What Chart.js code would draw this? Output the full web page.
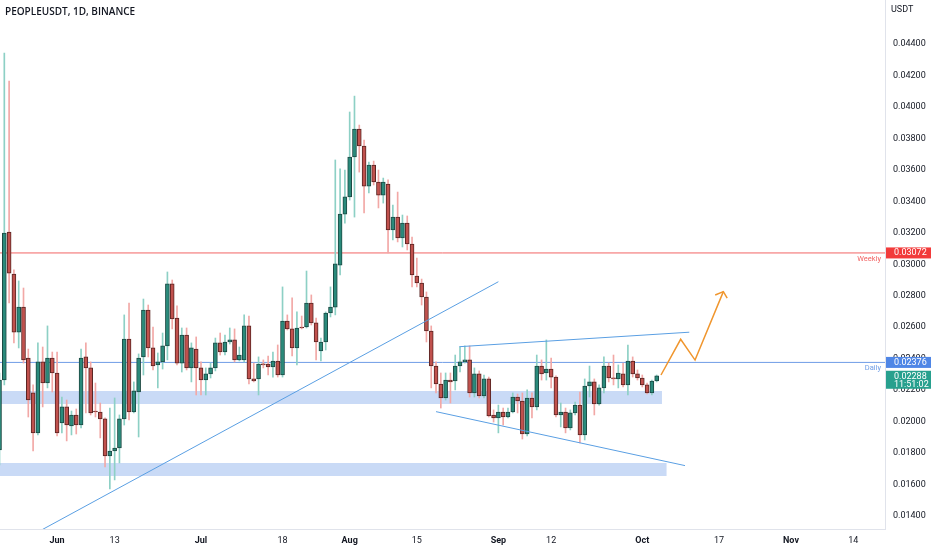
<!DOCTYPE html>
<html>
<head>
<meta charset="utf-8">
<title>PEOPLEUSDT, 1D, BINANCE</title>
<script src="https://cdn.jsdelivr.net/npm/chart.js@4.4.0/dist/chart.umd.min.js"></script>
<style>
    html, body { margin: 0; padding: 0; background: #ffffff; }
    #wrap { position: relative; width: 932px; height: 550px; }
    #title {
        position: absolute; left: 5px; top: 4px;
        font: 600 10px "Open Sans", Roboto, sans-serif; color: #131722;
    }
    #unit {
        position: absolute; left: 891px; top: 4px;
        font: 9px Roboto, sans-serif; color: #131722;
    }
</style>
</head>
<body>
<div id="wrap">
    <canvas id="priceChart"></canvas>
    <div id="title">PEOPLEUSDT, 1D, BINANCE</div>
    <div id="unit">USDT</div>
</div>
<script>
// Daily candles, index 0 = 21 May (first one is the partly hidden candle before it)
const firstDay = -1;
const openP = [
    0.01819, 0.02264, 0.03205, 0.02938, 0.02569, 0.02728, 0.02404, 0.02182, 0.01928, 0.02379,
    0.02245, 0.02404, 0.02309, 0.01991, 0.02093, 0.01972, 0.02042, 0.01978, 0.02411, 0.02341,
    0.02067, 0.02061, 0.02017, 0.01781, 0.01813, 0.01832, 0.02017, 0.02525, 0.02061, 0.02188,
    0.02411, 0.02709, 0.02468, 0.02360, 0.02379, 0.02481, 0.02875, 0.02658, 0.02372, 0.02550,
    0.02341, 0.02461, 0.02341, 0.02264, 0.02303, 0.02341, 0.02500, 0.02442, 0.02506, 0.02519,
    0.02392, 0.02392, 0.02608, 0.02271, 0.02271, 0.02366, 0.02366, 0.02347, 0.02385, 0.02296,
    0.02639, 0.02589, 0.02468, 0.02601, 0.02601, 0.02754, 0.02627, 0.02449, 0.02506, 0.02690,
    0.02728, 0.02995, 0.03319, 0.03428, 0.03682, 0.03860, 0.03752, 0.03497, 0.03631, 0.03523,
    0.03440, 0.03510, 0.03218, 0.03300, 0.03167, 0.03262, 0.03129, 0.02925, 0.02881, 0.02792,
    0.02576, 0.02353, 0.02239, 0.02150, 0.02264, 0.02258, 0.02353, 0.02379, 0.02392, 0.02182,
    0.02303, 0.02163, 0.02271, 0.02042, 0.02023, 0.02061, 0.02029, 0.02061, 0.02156, 0.02131,
    0.01921, 0.02150, 0.02093, 0.02353, 0.02309, 0.02334, 0.02283, 0.02042, 0.02061, 0.01959,
    0.02055, 0.02105, 0.01915, 0.02226, 0.02252, 0.02112, 0.02214, 0.02353, 0.02277, 0.02271,
    0.02303, 0.02233, 0.02385, 0.02303, 0.02277, 0.02233, 0.02182, 0.02258
];
const highP = [
    0.02309, 0.04343, 0.04165, 0.02964, 0.02894, 0.02849, 0.02461, 0.02233, 0.02500, 0.02474,
    0.02608, 0.02442, 0.02442, 0.02156, 0.02137, 0.02067, 0.02080, 0.02461, 0.02500, 0.02379,
    0.02245, 0.02118, 0.02023, 0.02086, 0.02150, 0.02042, 0.02678, 0.02754, 0.02252, 0.02430,
    0.02779, 0.02741, 0.02601, 0.02436, 0.02563, 0.02951, 0.02900, 0.02735, 0.02595, 0.02595,
    0.02500, 0.02538, 0.02379, 0.02341, 0.02372, 0.02531, 0.02563, 0.02550, 0.02595, 0.02589,
    0.02474, 0.02678, 0.02671, 0.02372, 0.02411, 0.02392, 0.02417, 0.02442, 0.02487, 0.02856,
    0.02678, 0.02786, 0.02697, 0.02671, 0.02957, 0.02805, 0.02658, 0.02531, 0.02697, 0.02856,
    0.03663, 0.03606, 0.03599, 0.03968, 0.04069, 0.03885, 0.03790, 0.03650, 0.03656, 0.03599,
    0.03548, 0.03536, 0.03377, 0.03459, 0.03313, 0.03307, 0.03173, 0.03040, 0.02906, 0.02824,
    0.02608, 0.02379, 0.02309, 0.02309, 0.02309, 0.02423, 0.02474, 0.02481, 0.02481, 0.02341,
    0.02322, 0.02296, 0.02283, 0.02074, 0.02105, 0.02086, 0.02086, 0.02182, 0.02175, 0.02182,
    0.02201, 0.02182, 0.02423, 0.02392, 0.02519, 0.02404, 0.02290, 0.02118, 0.02086, 0.02074,
    0.02124, 0.02188, 0.02271, 0.02353, 0.02271, 0.02233, 0.02411, 0.02372, 0.02423, 0.02360,
    0.02372, 0.02487, 0.02411, 0.02328, 0.02296, 0.02245, 0.02264, 0.02296
];
const lowP = [
    0.01724, 0.02233, 0.02754, 0.02500, 0.02468, 0.02372, 0.02029, 0.01813, 0.01915, 0.02093,
    0.02214, 0.02188, 0.01908, 0.01928, 0.01877, 0.01915, 0.01921, 0.01959, 0.02055, 0.02042,
    0.02029, 0.01896, 0.01711, 0.01572, 0.01629, 0.01737, 0.01978, 0.02010, 0.02055, 0.01902,
    0.02296, 0.02411, 0.02328, 0.02214, 0.02334, 0.02392, 0.02589, 0.02360, 0.02315, 0.02328,
    0.02252, 0.02169, 0.02169, 0.02169, 0.02277, 0.02322, 0.02423, 0.02423, 0.02493, 0.02379,
    0.02385, 0.02379, 0.02239, 0.02252, 0.02169, 0.02341, 0.02296, 0.02283, 0.02283, 0.02283,
    0.02582, 0.02417, 0.02360, 0.02589, 0.02595, 0.02614, 0.02392, 0.02385, 0.02455, 0.02665,
    0.02678, 0.02932, 0.03262, 0.03408, 0.03300, 0.03586, 0.03326, 0.03453, 0.03504, 0.03358,
    0.03389, 0.03072, 0.03154, 0.03142, 0.03110, 0.03091, 0.02856, 0.02856, 0.02741, 0.02506,
    0.02214, 0.02182, 0.02086, 0.02137, 0.02118, 0.02201, 0.02315, 0.02372, 0.02156, 0.02156,
    0.02150, 0.02150, 0.02029, 0.01997, 0.01928, 0.01978, 0.02023, 0.02055, 0.02055, 0.01889,
    0.01908, 0.02023, 0.02074, 0.02264, 0.02264, 0.02214, 0.02029, 0.01966, 0.01928, 0.01947,
    0.02042, 0.01864, 0.01883, 0.02156, 0.02042, 0.02105, 0.02182, 0.02252, 0.02233, 0.02214,
    0.02220, 0.02169, 0.02283, 0.02264, 0.02220, 0.02175, 0.02169, 0.02252
];
const closeP = [
    0.02264, 0.03199, 0.02944, 0.02569, 0.02728, 0.02392, 0.02137, 0.01928, 0.02379, 0.02245,
    0.02404, 0.02309, 0.01928, 0.02093, 0.01978, 0.02042, 0.01978, 0.02404, 0.02341, 0.02055,
    0.02061, 0.02017, 0.01781, 0.01813, 0.01832, 0.02017, 0.02525, 0.02061, 0.02195, 0.02404,
    0.02709, 0.02468, 0.02353, 0.02379, 0.02481, 0.02875, 0.02652, 0.02372, 0.02550, 0.02341,
    0.02468, 0.02341, 0.02264, 0.02303, 0.02341, 0.02500, 0.02442, 0.02506, 0.02519, 0.02392,
    0.02423, 0.02608, 0.02271, 0.02258, 0.02366, 0.02360, 0.02347, 0.02385, 0.02296, 0.02639,
    0.02589, 0.02468, 0.02595, 0.02595, 0.02754, 0.02627, 0.02506, 0.02506, 0.02690, 0.02728,
    0.03002, 0.03319, 0.03428, 0.03682, 0.03860, 0.03752, 0.03497, 0.03631, 0.03523, 0.03440,
    0.03523, 0.03218, 0.03300, 0.03167, 0.03262, 0.03129, 0.02932, 0.02881, 0.02792, 0.02576,
    0.02353, 0.02239, 0.02150, 0.02264, 0.02252, 0.02353, 0.02379, 0.02392, 0.02182, 0.02303,
    0.02163, 0.02271, 0.02036, 0.02023, 0.02061, 0.02029, 0.02061, 0.02156, 0.02131, 0.01921,
    0.02150, 0.02093, 0.02353, 0.02303, 0.02334, 0.02283, 0.02042, 0.02061, 0.01959, 0.02055,
    0.02105, 0.01915, 0.02226, 0.02252, 0.02112, 0.02214, 0.02353, 0.02277, 0.02271, 0.02309,
    0.02233, 0.02385, 0.02303, 0.02277, 0.02233, 0.02182, 0.02258, 0.02290
];

// time axis labels (day index from 21 May)
const tickDays = [11, 23, 41, 58, 72, 86, 103, 114, 133, 149, 164, 177];
const tickText = ['Jun', '13', 'Jul', '18', 'Aug', '15', 'Sep', '12', 'Oct', '17', 'Nov', '14'];
const tickIsMonth = [true, false, true, false, true, false, true, false, true, false, true, false];

// price axis labels
const priceTicks = [0.014, 0.016, 0.018, 0.020, 0.022, 0.024, 0.026, 0.028, 0.030,
                    0.032, 0.034, 0.036, 0.038, 0.040, 0.042, 0.044];

// levels drawn on the chart
const weeklyLevel = 0.03072;
const dailyLevel = 0.02376;
const lastPrice = 0.02288;
const lastTimer = '11:51:02';

// demand zones: top, bottom, last day they reach
const zoneTop = [0.02195, 0.01737];
const zoneBottom = [0.02112, 0.01654];
const zoneEnd = [137.1, 138.1];

// drawings as [day, price]
const trendUp = [[6.75, 0.01294], [103.0, 0.02889]];
const triangleTop = [[94.85, 0.02476], [142.8, 0.02568]];
const triangleBottom = [[90.0, 0.02063], [141.9, 0.01720]];
const projection = [[136.9, 0.02296], [141.0, 0.02523], [144.0, 0.02391], [149.9, 0.02826]];
const arrowHead = [[148.2, 0.02805], [149.9, 0.02826], [150.7, 0.02784]];

const xMin = -0.9, xMax = 183.6;
const yMin = 0.01317, yMax = 0.04680;

const upBody = '#2a8a7b', upEdge = '#1d4a44', upWick = '#8dd0c5';
const downBody = '#c0514d', downEdge = '#5a2523', downWick = '#f2a8a6';
const trendBlue = '#5a9fe3';
const zoneFill = '#c9daf6';

const candleX = openP.map((_, j) => firstDay + j);
const isUp = openP.map((o, j) => closeP[j] >= o);

const segment = (pts, color, width, order) => ({
    type: 'line',
    data: pts.map(([x, y]) => ({ x, y })),
    borderColor: color,
    borderWidth: width,
    pointRadius: 0,
    tension: 0,
    fill: false,
    order
});

const datasets = [];

// zones (filled between two invisible lines)
zoneTop.forEach((top, k) => {
    datasets.push({
        type: 'line',
        data: [{ x: xMin, y: top }, { x: zoneEnd[k], y: top }],
        borderColor: 'rgba(0,0,0,0)', borderWidth: 1, pointRadius: 0,
        backgroundColor: zoneFill, fill: '+1', order: 9
    });
    datasets.push({
        type: 'line',
        data: [{ x: xMin, y: zoneBottom[k] }, { x: zoneEnd[k], y: zoneBottom[k] }],
        borderColor: 'rgba(0,0,0,0)', borderWidth: 1, pointRadius: 0,
        fill: false, order: 9
    });
});

// horizontal levels
datasets.push(segment([[xMin, weeklyLevel], [xMax, weeklyLevel]], '#f26464', 1, 8));
datasets.push(segment([[xMin, dailyLevel], [xMax, dailyLevel]], '#6f9de6', 1, 8));

// candles: wicks then bodies
datasets.push({
    type: 'bar',
    data: candleX.map((x, j) => ({ x, y: [lowP[j], highP[j]] })),
    backgroundColor: isUp.map(u => u ? upWick : downWick),
    barThickness: 1,
    grouped: false,
    order: 6
});
datasets.push({
    type: 'bar',
    data: candleX.map((x, j) => ({ x, y: [Math.min(openP[j], closeP[j]), Math.max(openP[j], closeP[j])] })),
    backgroundColor: isUp.map(u => u ? upBody : downBody),
    borderColor: isUp.map(u => u ? upEdge : downEdge),
    borderWidth: 1,
    borderSkipped: false,
    barThickness: 4,
    minBarLength: 1,
    grouped: false,
    order: 5
});

// trend lines and projection
datasets.push(segment(trendUp, trendBlue, 1, 2));
datasets.push(segment(triangleTop, trendBlue, 1, 2));
datasets.push(segment(triangleBottom, trendBlue, 1, 2));
datasets.push(segment(projection, '#f0962e', 1.5, 1));
datasets.push(segment(arrowHead, '#f0962e', 1.5, 1));

// level captions and axis price tags
const priceTags = {
    id: 'priceTags',
    afterDraw(chart) {
        const { ctx, chartArea, scales: { y } } = chart;
        const left = chartArea.right + 1;
        const w = chart.width - left;
        ctx.save();

        ctx.font = '7.5px Roboto, sans-serif';
        ctx.textAlign = 'right';
        ctx.textBaseline = 'top';
        ctx.fillStyle = '#f26464';
        ctx.fillText('Weekly', chartArea.right - 4, y.getPixelForValue(weeklyLevel) + 2);
        ctx.fillStyle = '#6f9de6';
        ctx.fillText('Daily', chartArea.right - 4, y.getPixelForValue(dailyLevel) + 2);

        const tag = (value, bg, lines) => {
            const py = y.getPixelForValue(value);
            const h = lines.length > 1 ? 18 : 11;
            ctx.fillStyle = bg;
            ctx.fillRect(left, py - 5.5, w - 1, h);
            ctx.fillStyle = '#ffffff';
            ctx.font = '9px Roboto, sans-serif';
            ctx.textAlign = 'left';
            ctx.textBaseline = 'middle';
            lines.forEach((t, k) => ctx.fillText(t, left + 8, py + k * 8.5));
        };
        tag(weeklyLevel, '#f23b3b', [weeklyLevel.toFixed(5)]);
        tag(dailyLevel, '#4f86e6', [dailyLevel.toFixed(5)]);
        tag(lastPrice, '#27a08e', [lastPrice.toFixed(5), lastTimer]);

        ctx.restore();
    }
};

// no label padding: plot area fills the canvas up to the axes
const noPadding = s => {
    s.paddingTop = 0;
    s.paddingBottom = 0;
    s.paddingLeft = 0;
    s.paddingRight = 0;
};

new Chart(document.getElementById('priceChart'), {
    type: 'bar',
    data: { datasets },
    options: {
        responsive: true,
        maintainAspectRatio: false,
        animation: false,
        layout: { padding: 0 },
        plugins: {
            legend: { display: false },
            tooltip: { enabled: false }
        },
        scales: {
            x: {
                type: 'linear',
                min: xMin,
                max: xMax,
                offset: false,
                grid: { display: false, drawTicks: false },
                border: { display: true, color: '#e0e3eb' },
                afterBuildTicks: s => { s.ticks = tickDays.map(v => ({ value: v })); },
                afterFit: s => { s.height = 21; noPadding(s); },
                ticks: {
                    autoSkip: false,
                    maxRotation: 0,
                    padding: 6,
                    color: '#131722',
                    font: c => ({ family: 'Roboto', size: 9, weight: tickIsMonth[c.index] ? 'bold' : 'normal' }),
                    callback: (v, i) => tickText[i]
                }
            },
            y: {
                type: 'linear',
                position: 'right',
                min: yMin,
                max: yMax,
                grid: { display: false, drawTicks: false },
                border: { display: true, color: '#e0e3eb' },
                afterBuildTicks: s => { s.ticks = priceTicks.map(v => ({ value: v })); },
                afterFit: s => { s.width = 47; noPadding(s); },
                ticks: {
                    padding: 8,
                    color: '#131722',
                    font: { family: 'Roboto', size: 9 },
                    callback: v => v.toFixed(5)
                }
            }
        }
    },
    plugins: [priceTags]
});
</script>
</body>
</html>
